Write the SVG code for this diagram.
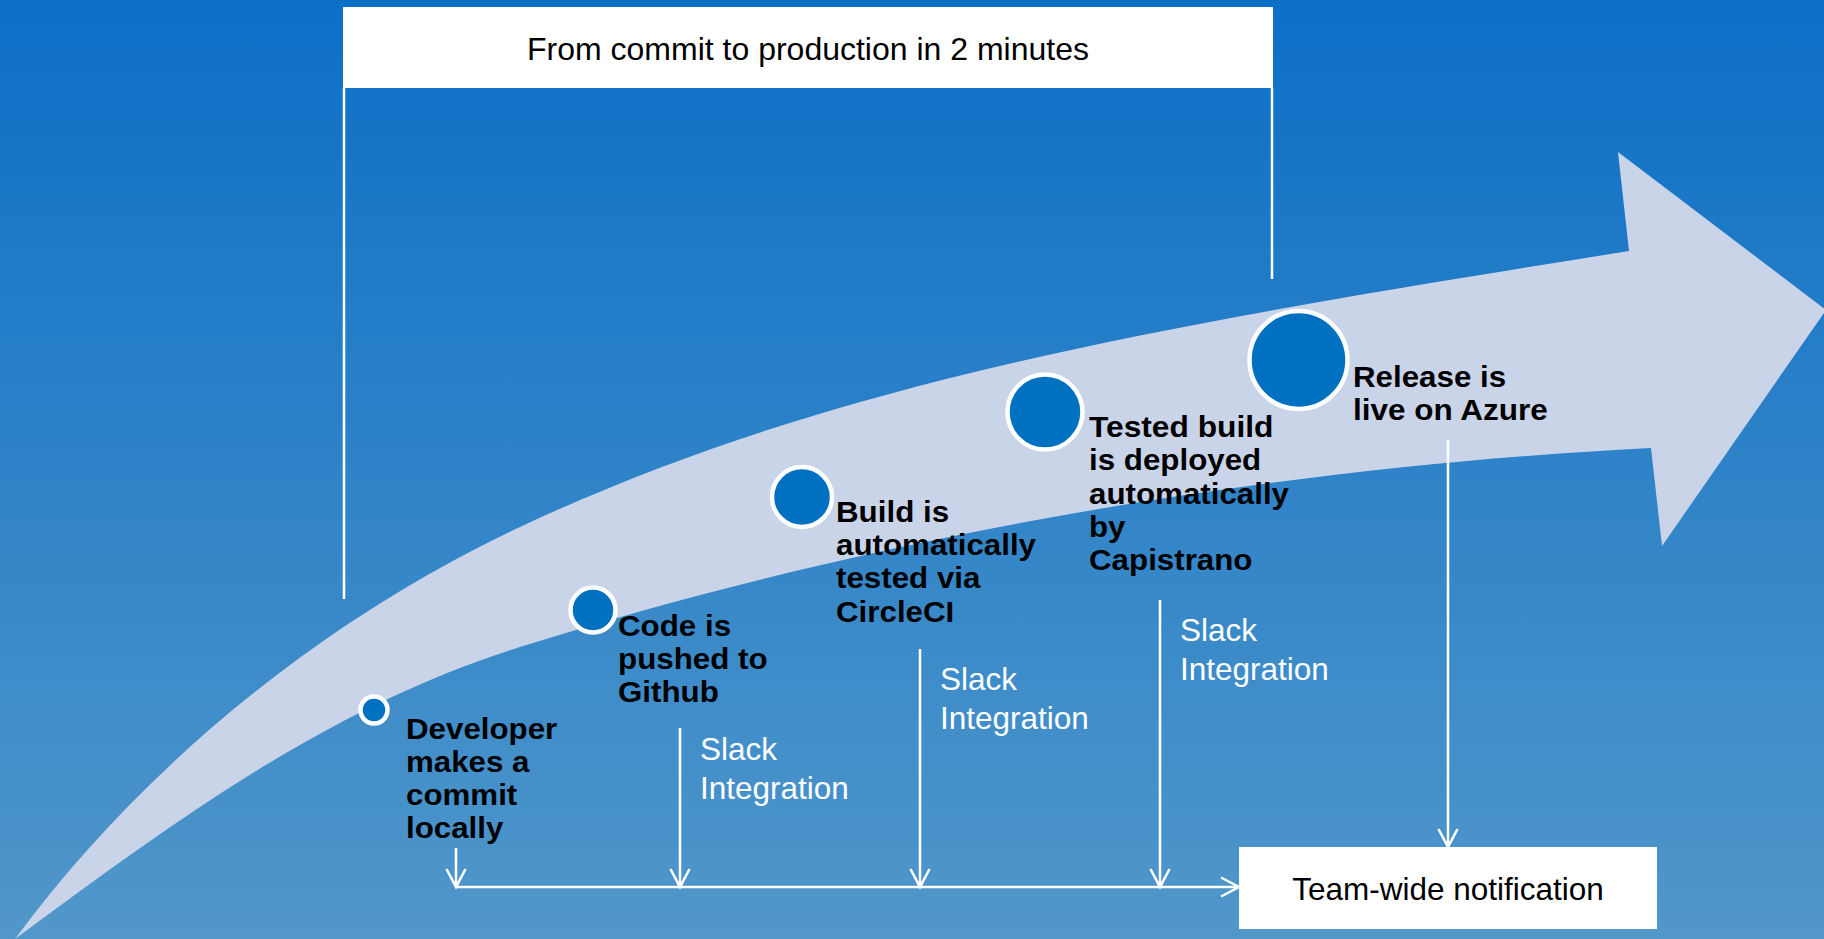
<svg xmlns="http://www.w3.org/2000/svg" width="1824" height="939" viewBox="0 0 1824 939">
  <defs>
    <linearGradient id="bg" x1="0" y1="0" x2="0" y2="1">
      <stop offset="0" stop-color="#0c6fc6"/>
      <stop offset="1" stop-color="#5197ca"/>
    </linearGradient>
    <marker id="arr" markerUnits="userSpaceOnUse" markerWidth="26" markerHeight="26" viewBox="-22 -13 26 26" refX="0" refY="0" orient="auto">
      <path d="M-18,-9.5 L0,0 L-18,9.5" fill="none" stroke="#ffffff" stroke-width="2.5"/>
    </marker>
    <style>
      .box { fill: #ffffff; }
      .title { font-family: "Liberation Sans", Arial, sans-serif; font-size: 32px; fill: #000000; text-anchor: middle; }
      .step { font-family: "Liberation Sans", Arial, sans-serif; font-size: 29px; font-weight: bold; fill: #000000; }
      .slack { font-family: "Liberation Sans", Arial, sans-serif; font-size: 31.5px; fill: #ffffff; }
      .dot { fill: #0070c0; stroke: #ffffff; stroke-width: 4.5; }
      .line { fill: none; stroke: #ffffff; stroke-width: 2.5; }
      .conn { fill: none; stroke: #ffffff; stroke-width: 2.5; marker-end: url(#arr); }
    </style>
  </defs>

  <rect x="0" y="0" width="1824" height="939" fill="url(#bg)"/>

  <!-- big curved arrow -->
  <path id="progress-arrow" fill="#c9d4e8" d="M15,939 C144,764.5 324,619 520,527 C837,378 1185,322 1629,251 L1618,152 L1826,310 L1662,546 L1651,448 C1251,468 854,542 520,647 C329,707 176,820 15,939 Z"/>

  <g id="header">
    <rect class="box" x="343" y="7" width="930" height="81"/>
    <text class="title" x="808" y="60">From commit to production in 2 minutes</text>
    <path class="line" d="M344,88 V599 M1272,88 V279"/>
  </g>

  <g id="connectors">
    <path class="conn" d="M456,887 H1239"/>
    <path class="conn" d="M456,848 V887"/>
    <path class="conn" d="M680,728 V887"/>
    <path class="conn" d="M920,649 V887"/>
    <path class="conn" d="M1160,600 V887"/>
    <path class="conn" d="M1448,440 V847"/>
  </g>

  <g id="slack-1">
    <text class="slack" x="700" y="760">Slack</text>
    <text class="slack" x="700" y="799">Integration</text>
  </g>
  <g id="slack-2">
    <text class="slack" x="940" y="690">Slack</text>
    <text class="slack" x="940" y="728.5">Integration</text>
  </g>
  <g id="slack-3">
    <text class="slack" x="1180" y="641">Slack</text>
    <text class="slack" x="1180" y="679.5">Integration</text>
  </g>

  <g id="step-commit">
    <circle class="dot" cx="374" cy="710" r="13.5"/>
    <text class="step" x="406" y="739" textLength="151.3" lengthAdjust="spacingAndGlyphs">Developer</text>
    <text class="step" x="406" y="772" textLength="123.5" lengthAdjust="spacingAndGlyphs">makes a</text>
    <text class="step" x="406" y="805" textLength="111.3" lengthAdjust="spacingAndGlyphs">commit</text>
    <text class="step" x="406" y="838" textLength="97.4" lengthAdjust="spacingAndGlyphs">locally</text>
  </g>

  <g id="step-push">
    <circle class="dot" cx="593" cy="610" r="22.5"/>
    <text class="step" x="618" y="636" textLength="113.1" lengthAdjust="spacingAndGlyphs">Code is</text>
    <text class="step" x="618" y="669" textLength="149.6" lengthAdjust="spacingAndGlyphs">pushed to</text>
    <text class="step" x="618" y="702" textLength="100.8" lengthAdjust="spacingAndGlyphs">Github</text>
  </g>

  <g id="step-test">
    <circle class="dot" cx="802" cy="497" r="30"/>
    <text class="step" x="836" y="522" textLength="113.1" lengthAdjust="spacingAndGlyphs">Build is</text>
    <text class="step" x="836" y="555" textLength="200" lengthAdjust="spacingAndGlyphs">automatically</text>
    <text class="step" x="836" y="588" textLength="144.4" lengthAdjust="spacingAndGlyphs">tested via</text>
    <text class="step" x="836" y="622" textLength="118.3" lengthAdjust="spacingAndGlyphs">CircleCI</text>
  </g>

  <g id="step-deploy">
    <circle class="dot" cx="1045" cy="412" r="37.5"/>
    <text class="step" x="1089" y="437" textLength="184.4" lengthAdjust="spacingAndGlyphs">Tested build</text>
    <text class="step" x="1089" y="470" textLength="172.2" lengthAdjust="spacingAndGlyphs">is deployed</text>
    <text class="step" x="1089" y="503.5" textLength="200" lengthAdjust="spacingAndGlyphs">automatically</text>
    <text class="step" x="1089" y="537" textLength="36.5" lengthAdjust="spacingAndGlyphs">by</text>
    <text class="step" x="1089" y="570" textLength="163.5" lengthAdjust="spacingAndGlyphs">Capistrano</text>
  </g>

  <g id="step-release">
    <circle class="dot" cx="1298.5" cy="360" r="49"/>
    <text class="step" x="1353" y="387" textLength="153.1" lengthAdjust="spacingAndGlyphs">Release is</text>
    <text class="step" x="1353" y="420" textLength="194.8" lengthAdjust="spacingAndGlyphs">live on Azure</text>
  </g>

  <g id="notification">
    <rect class="box" x="1239" y="847" width="418" height="82"/>
    <text class="title" x="1448" y="900" style="font-size:31.5px">Team-wide notification</text>
  </g>
</svg>
